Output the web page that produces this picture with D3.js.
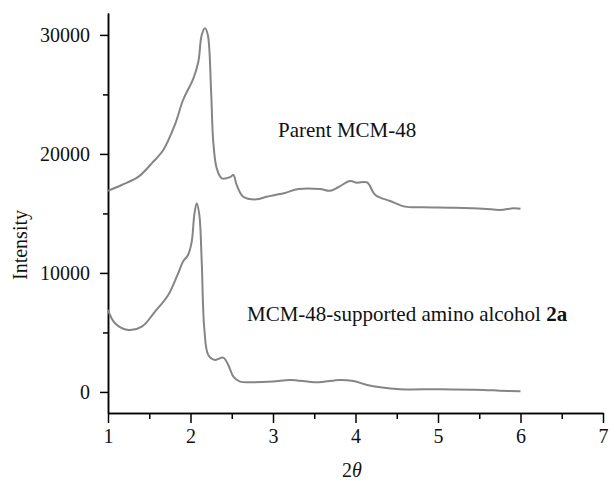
<!DOCTYPE html>
<html>
<head>
<meta charset="utf-8">
<script src="https://cdn.jsdelivr.net/npm/d3@7"></script>
<style>
  body { margin: 0; background: #fff; }
  svg text { font-family: "Liberation Serif", "DejaVu Serif", serif; fill: #111; }
  .axis path, .axis line { stroke: #000; stroke-width: 1.5; }
  .curve { fill: none; stroke: #858585; stroke-width: 2; stroke-linejoin: round; }
</style>
</head>
<body>
<div id="chart"></div>
<script>
var w = 610,
    h = 480;

// 2-theta positions and intensities
var parentX = [1.0, 1.166, 1.37, 1.53, 1.67, 1.81, 1.91, 2.035, 2.095, 2.136, 2.176, 2.21, 2.25, 2.276, 2.318, 2.38, 2.48, 2.52, 2.56, 2.64, 2.80, 2.92, 3.13, 3.31, 3.57, 3.69, 3.79, 3.935, 4.016, 4.14, 4.24, 4.42, 4.60, 4.82, 5.15, 5.55, 5.75, 5.915, 6.0];
var parentY = [16900, 17390, 18090, 19210, 20330, 22430, 24530, 26350, 27750, 29990, 30550, 29990, 25230, 21025, 18790, 17950, 18050, 18230, 17390, 16400, 16180, 16400, 16690, 17050, 17050, 16900, 17200, 17720, 17580, 17600, 16550, 16040, 15570, 15510, 15480, 15400, 15290, 15430, 15400];

var supportedX = [1.0, 1.085, 1.246, 1.41, 1.57, 1.73, 1.85, 1.91, 1.97, 2.015, 2.046, 2.075, 2.107, 2.136, 2.167, 2.216, 2.297, 2.397, 2.458, 2.52, 2.60, 2.72, 3.0, 3.21, 3.53, 3.81, 3.975, 4.14, 4.30, 4.54, 5.03, 5.55, 5.75, 6.0];
var supportedY = [6890, 5770, 5210, 5490, 6750, 8150, 9970, 10950, 11510, 12630, 14870, 15850, 14870, 10950, 5350, 3110, 2690, 2880, 2270, 1290, 870, 810, 870, 1010, 810, 1010, 920, 590, 390, 230, 230, 170, 110, 60];

var xMajor = [1, 2, 3, 4, 5, 6, 7],
    xMinor = [1.5, 2.5, 3.5, 4.5, 5.5, 6.5],
    yMajor = [0, 10000, 20000, 30000],
    yMinor = [5000, 15000, 25000];

var svg = d3.select("#chart").append("svg")
  .attr("width", w)
  .attr("height", h);

var x = d3.scaleLinear().domain([1, 7]).range([108, 603]);
var y = d3.scaleLinear().domain([-1770, 31840]).range([413, 13]);

// minor ticks first, then the major axis with labels
svg.append("g").attr("class", "axis")
  .attr("transform", "translate(0,413)")
  .call(d3.axisBottom(x).tickValues(xMinor).tickSize(6).tickSizeOuter(0).tickFormat(""));
svg.append("g").attr("class", "axis")
  .attr("transform", "translate(0,413)")
  .call(d3.axisBottom(x).tickValues(xMajor).tickSize(10).tickSizeOuter(0).tickPadding(6).tickFormat(d3.format("d")));

svg.append("g").attr("class", "axis")
  .attr("transform", "translate(108,0)")
  .call(d3.axisLeft(y).tickValues(yMinor).tickSize(5).tickSizeOuter(0).tickFormat(""));
svg.append("g").attr("class", "axis")
  .attr("transform", "translate(108,0)")
  .call(d3.axisLeft(y).tickValues(yMajor).tickSize(8).tickSizeOuter(0).tickPadding(10).tickFormat(d3.format("d")));

svg.selectAll(".axis").attr("font-family", null);
svg.selectAll(".axis text").style("font-size", "20px");

var line = d3.line()
  .x(function(d) { return x(d[0]); })
  .y(function(d) { return y(d[1]); })
  .curve(d3.curveCatmullRom.alpha(0.5));

svg.append("path").attr("class", "curve")
  .attr("d", line(d3.zip(parentX, parentY)));
svg.append("path").attr("class", "curve")
  .attr("d", line(d3.zip(supportedX, supportedY)));

svg.append("text")
  .attr("x", 278).attr("y", 137)
  .style("font-size", "21px")
  .text("Parent MCM-48");

var lab = svg.append("text")
  .attr("x", 247).attr("y", 321)
  .style("font-size", "21px");
lab.append("tspan").text("MCM-48-supported amino alcohol ");
lab.append("tspan").style("font-weight", "bold").text("2a");

svg.append("text")
  .attr("transform", "translate(27,245) rotate(-90)")
  .attr("text-anchor", "middle")
  .style("font-size", "20px")
  .text("Intensity");

var xt = svg.append("text")
  .attr("x", 352).attr("y", 477)
  .attr("text-anchor", "middle")
  .style("font-size", "20px");
xt.append("tspan").text("2");
xt.append("tspan").style("font-style", "italic").text("θ");
</script>
</body>
</html>
